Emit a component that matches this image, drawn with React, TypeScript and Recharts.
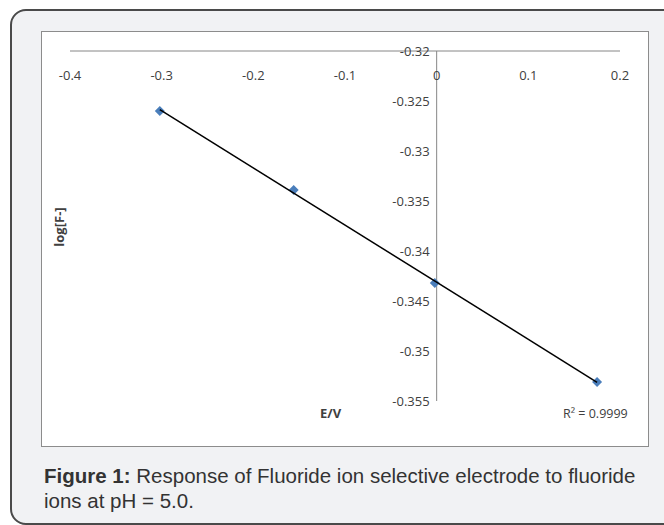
import React from 'react';
import {
  ScatterChart, Scatter, XAxis, YAxis, ReferenceLine,
} from 'recharts';

// measured points: electrode potential (V) vs log[F-]
const potentials = [-0.302, -0.156, -0.002, 0.175];
const logF = [-0.326, -0.3339, -0.3432, -0.3531];
const xTicks = [-0.4, -0.3, -0.2, -0.1, 0, 0.1, 0.2];
const yTicks = [-0.32, -0.325, -0.33, -0.335, -0.34, -0.345, -0.35, -0.355];
const rSquared = '0.9999';

const points = potentials.map((x, i) => ({ x, y: logF[i] }));

// least squares fit, like Excel's linear trendline
const n = potentials.length;
const mx = potentials.reduce((a, b) => a + b, 0) / n;
const my = logF.reduce((a, b) => a + b, 0) / n;
const slope =
  potentials.reduce((s, x, i) => s + (x - mx) * (logF[i] - my), 0) /
  potentials.reduce((s, x) => s + (x - mx) * (x - mx), 0);
const intercept = my - slope * mx;
const xMin = Math.min(...potentials);
const xMax = Math.max(...potentials);
const trend = [
  { x: xMin, y: intercept + slope * xMin },
  { x: xMax, y: intercept + slope * xMax },
];

const W = 664;
const H = 525;
const PLOT_LEFT = 70;
const PLOT_RIGHT = 620;
const PLOT_TOP = 51;
const PLOT_BOTTOM = 401;
const AXIS_SIZE = 30;
const X_DOMAIN: [number, number] = [-0.4, 0.2];
// pixel position of the vertical axis (x = 0)
const Y_AXIS_X =
  PLOT_LEFT + ((0 - X_DOMAIN[0]) / (X_DOMAIN[1] - X_DOMAIN[0])) * (PLOT_RIGHT - PLOT_LEFT);

const tickFont = "'Open Sans', 'DejaVu Sans', sans-serif";

const XTick = (props: any) => {
  const { x, payload } = props;
  return (
    <text x={x} y={PLOT_TOP + 29} textAnchor="middle" fill="#404040" fontSize={13} fontFamily={tickFont}>
      {payload.value}
    </text>
  );
};

const YTick = (props: any) => {
  const { y, payload } = props;
  return (
    <text x={Y_AXIS_X - 7} y={y + 5} textAnchor="end" fill="#404040" fontSize={13} fontFamily={tickFont}>
      {payload.value}
    </text>
  );
};

const Diamond = (props: any) => {
  const { cx, cy } = props;
  const r = 5;
  return (
    <polygon
      points={`${cx},${cy - r} ${cx + r},${cy} ${cx},${cy + r} ${cx - r},${cy}`}
      fill="#4a7ebb"
    />
  );
};

export default function App() {
  return (
    <div style={{ position: 'absolute', left: 0, top: 0, width: W, height: H, background: '#fff', overflow: 'hidden' }}>
      {/* rounded figure frame */}
      <div
        style={{
          position: 'absolute', left: 10, top: 9, width: 700, height: 512,
          border: '2px solid #4a4a4a', borderRadius: 16, background: '#f1f2f4',
        }}
      />
      {/* chart area */}
      <div
        style={{
          position: 'absolute', left: 41, top: 31, width: 606, height: 414,
          border: '1px solid #8c8c8c', background: '#fff',
        }}
      />
      <div style={{ position: 'absolute', left: 0, top: 0 }}>
        <ScatterChart
          width={W}
          height={H}
          margin={{
            top: PLOT_TOP - AXIS_SIZE,
            left: PLOT_LEFT - AXIS_SIZE,
            right: W - PLOT_RIGHT,
            bottom: H - PLOT_BOTTOM,
          }}
        >
          <XAxis
            type="number"
            dataKey="x"
            orientation="top"
            height={AXIS_SIZE}
            domain={X_DOMAIN}
            ticks={xTicks}
            tickLine={false}
            axisLine={{ stroke: '#868686', strokeWidth: 1 }}
            tick={<XTick />}
            interval={0}
            allowDataOverflow
          />
          <YAxis
            type="number"
            dataKey="y"
            width={AXIS_SIZE}
            domain={[-0.355, -0.32]}
            ticks={yTicks}
            tickLine={false}
            axisLine={false}
            tick={<YTick />}
            interval={0}
            allowDataOverflow
          />
          <ReferenceLine x={0} stroke="#868686" strokeWidth={1} />
          <Scatter data={points} shape={<Diamond />} isAnimationActive={false} />
          <Scatter
            data={trend}
            line={{ stroke: '#000', strokeWidth: 1.5 }}
            shape={() => null}
            isAnimationActive={false}
          />
        </ScatterChart>
      </div>
      <div
        style={{
          position: 'absolute', left: 59, top: 227, transform: 'translate(-50%, -50%) rotate(-90deg)',
          fontFamily: tickFont, fontWeight: 700, fontSize: 13, color: '#404040', whiteSpace: 'nowrap',
        }}
      >
        log[F-]
      </div>
      <div
        style={{
          position: 'absolute', left: 320, top: 404,
          fontFamily: tickFont, fontWeight: 700, fontSize: 13, color: '#404040',
        }}
      >
        E/V
      </div>
      <div
        style={{
          position: 'absolute', left: 563, top: 405,
          fontFamily: tickFont, fontSize: 12.5, color: '#404040', whiteSpace: 'nowrap',
        }}
      >
        R² = {rSquared}
      </div>
      <div
        style={{
          position: 'absolute', left: 44, top: 463, width: 640, whiteSpace: 'nowrap',
          fontFamily: "'Liberation Sans', Arial, sans-serif", fontSize: 20.5, lineHeight: '25px', color: '#333',
        }}
      >
        <b>Figure 1:</b> Response of Fluoride ion selective electrode to fluoride
        <br />
        ions at pH = 5.0.
      </div>
    </div>
  );
}
